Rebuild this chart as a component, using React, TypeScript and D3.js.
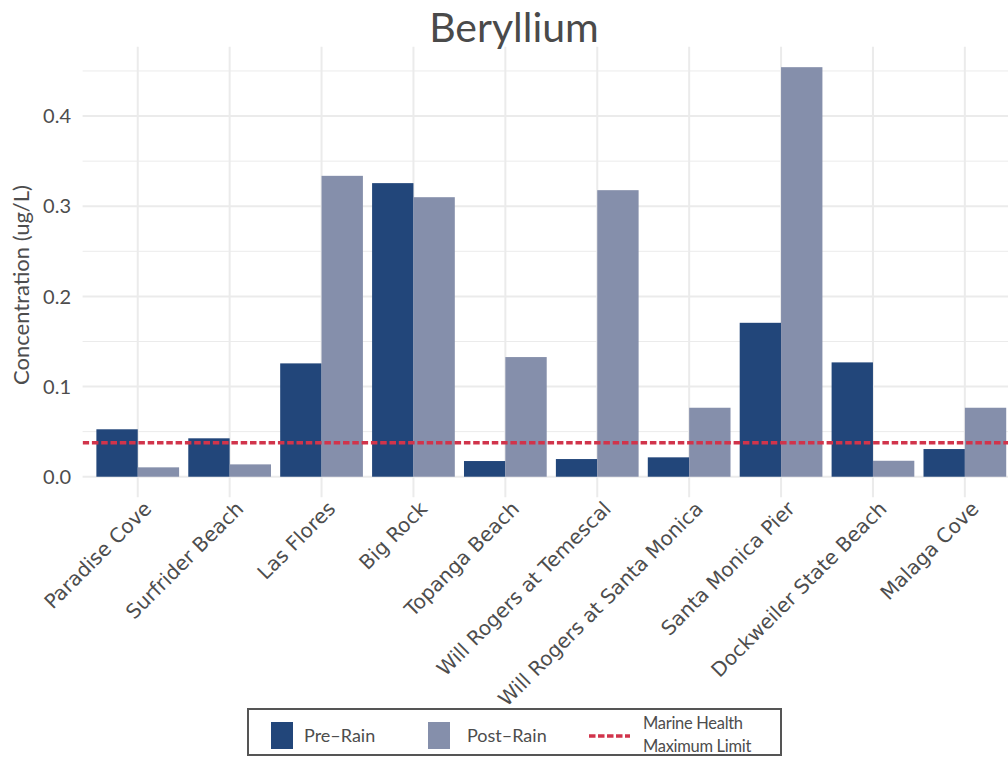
import React from "react";
import * as d3 from "d3";

const sites = [
  "Paradise Cove",
  "Surfrider Beach",
  "Las Flores",
  "Big Rock",
  "Topanga Beach",
  "Will Rogers at Temescal",
  "Will Rogers at Santa Monica",
  "Santa Monica Pier",
  "Dockweiler State Beach",
  "Malaga Cove",
];
const preRain = [0.0526, 0.0426, 0.1257, 0.3256, 0.0174, 0.0196, 0.0215, 0.1707, 0.1268, 0.0307];
const postRain = [0.0104, 0.0137, 0.3337, 0.310, 0.1327, 0.3178, 0.0765, 0.4542, 0.0177, 0.0765];
const marineLimit = 0.0377;
const yTicks = [0, 0.1, 0.2, 0.3, 0.4];
const yMinor = [0.05, 0.15, 0.25, 0.35, 0.45];
const seriesKeys = ["pre", "post"];
const seriesLabels = ["Pre\u2013Rain", "Post\u2013Rain"];

const W = 1008;
const H = 757;
const panel = { left: 82.6, right: 1020, top: 46.7, bottom: 497.2 };
const PRE = "#22467a";
const POST = "#858fab";
const RED = "#d1344b";
const GRID = "#ebebeb";
const TXT = "#4d4d4d";

export default function App() {
  const x = d3.scaleBand<string>().domain(sites).range([panel.left, panel.right]).paddingInner(0).paddingOuter(0.1);
  const xs = d3.scaleBand<string>().domain(seriesKeys).range([0, x.bandwidth()]).paddingInner(0).paddingOuter(0.111);
  const yMax = d3.max(postRain.concat(preRain)) as number;
  const y = d3.scaleLinear().domain([-0.05 * yMax, yMax * 1.05]).range([panel.bottom, panel.top]);

  const data = sites.map((s, i) => ({ site: s, pre: preRain[i], post: postRain[i] }));

  return (
    <svg width={W} height={H} style={{ position: "absolute", left: 0, top: 0, background: "#fff" }}>
      <defs>
        <clipPath id="pc">
          <rect x={panel.left} y={panel.top} width={panel.right - panel.left} height={panel.bottom - panel.top} />
        </clipPath>
      </defs>
      {/* grid */}
      <g>
        {yMinor.map((t) => (
          <line key={"mi" + t} x1={panel.left} x2={panel.right} y1={y(t)} y2={y(t)} stroke={GRID} strokeWidth={1} />
        ))}
        {yTicks.map((t) => (
          <line key={"ma" + t} x1={panel.left} x2={panel.right} y1={y(t)} y2={y(t)} stroke={GRID} strokeWidth={2} />
        ))}
        {sites.map((s) => {
          const cx = (x(s) as number) + x.bandwidth() / 2;
          return <line key={"v" + s} x1={cx} x2={cx} y1={panel.top} y2={panel.bottom} stroke={GRID} strokeWidth={2} />;
        })}
      </g>
      {/* bars */}
      <g clipPath="url(#pc)">
        {data.map((d) => (
          <g key={d.site} transform={`translate(${x(d.site)},0)`}>
            <rect x={xs("pre")} width={xs.bandwidth()} y={y(d.pre)} height={y(0) - y(d.pre)} fill={PRE} />
            <rect x={xs("post")} width={xs.bandwidth()} y={y(d.post)} height={y(0) - y(d.post)} fill={POST} />
          </g>
        ))}
        <line x1={panel.left} x2={panel.right} y1={y(marineLimit)} y2={y(marineLimit)} stroke={RED} strokeWidth={3.5} strokeDasharray="6.5,2.8" />
      </g>
      {/* y ticks */}
      <g fontFamily="Lato" fontSize={20} fill={TXT}>
        {yTicks.map((t) => (
          <text key={"yt" + t} x={71} y={y(t)} dy="0.36em" textAnchor="end">
            {d3.format(".1f")(t)}
          </text>
        ))}
      </g>
      {/* x labels */}
      <g fontFamily="DejaVu Sans" fontSize={20} fill={TXT}>
        {sites.map((s) => {
          const cx = (x(s) as number) + x.bandwidth() / 2 + 15;
          const cy = 510;
          return (
            <text key={"xl" + s} transform={`translate(${cx},${cy}) rotate(-45)`} textAnchor="end">
              {s}
            </text>
          );
        })}
      </g>
      {/* y title */}
      <text transform={`translate(29,285) rotate(-90)`} textAnchor="middle" fontFamily="Lato" fontSize={22} fill={TXT}>
        Concentration (ug/L)
      </text>
      {/* title */}
      <text x={514} y={42} textAnchor="middle" fontFamily="Lato" fontSize={41} fill="#4a4a4a">
        Beryllium
      </text>
      {/* legend */}
      <g fontFamily="Lato" fill={TXT}>
        <rect x={248} y={709} width={533} height={46} fill="#fff" stroke="#555" strokeWidth={2} />
        <rect x={271} y={722} width={22} height={27} fill={PRE} />
        <text x={304} y={742} fontSize={18}>{seriesLabels[0]}</text>
        <rect x={428} y={722} width={22} height={27} fill={POST} />
        <text x={467} y={742} fontSize={18}>{seriesLabels[1]}</text>
        <line x1={589} x2={630} y1={736} y2={736} stroke={RED} strokeWidth={3.5} strokeDasharray="6.5,2.5" />
        <text x={643} y={729} fontSize={16.5} letterSpacing={-0.3}>Marine Health</text>
        <text x={643} y={752} fontSize={16.5} letterSpacing={-0.3}>Maximum Limit</text>
      </g>
    </svg>
  );
}
